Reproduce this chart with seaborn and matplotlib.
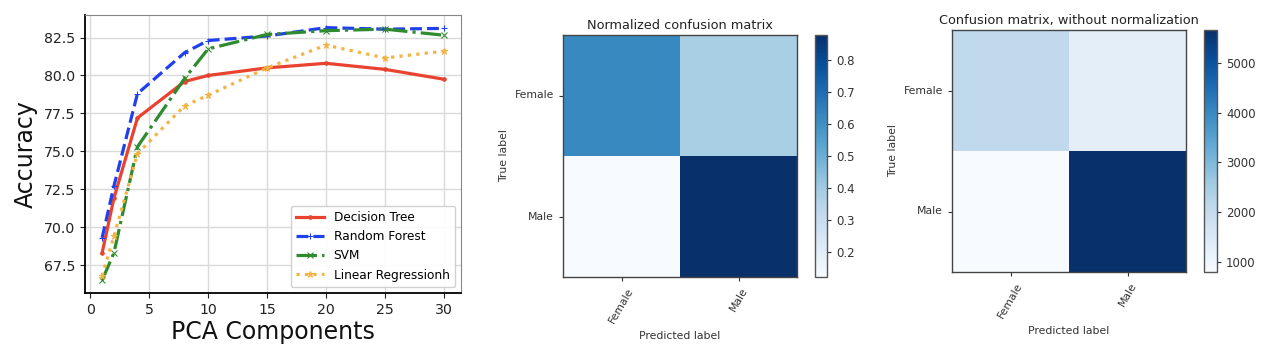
import numpy as np
import pandas as pd
import matplotlib
matplotlib.use("Agg")
import matplotlib.pyplot as plt
import seaborn as sns


# -------------------------------
# DATA
# -------------------------------
pca_components = [1, 2, 4, 8, 10, 15, 20, 25, 30]
decision_tree = [68.3, 71.9, 77.2, 79.6, 80.0, 80.5, 80.8, 80.4, 79.75]
random_forest = [69.3, 72.7, 78.8, 81.5, 82.3, 82.6, 83.15, 83.05, 83.1]
svm = [66.5, 68.3, 75.3, 79.8, 81.75, 82.7, 82.95, 83.05, 82.65]
linear_regression = [66.8, 69.4, 74.85, 78.0, 78.7, 80.5, 82.0, 81.15, 81.6]

classes = ["Female", "Male"]
cm_normalized = [[0.62, 0.38],
                 [0.123, 0.877]]
cm_counts = [[2100, 1290],
             [800, 5660]]

W, H = 1261, 361


def px_axes(fig, x0, y0, x1, y1):
    # pixel box (top-left origin) -> figure axes
    return fig.add_axes([x0 / W, 1 - y1 / H, (x1 - x0) / W, (y1 - y0) / H])


# -------------------------------
# ACCURACY vs PCA COMPONENTS
# -------------------------------
def plot_accuracy(ax):
    df = pd.DataFrame({
        "PCA Components": pca_components,
        "Decision Tree": decision_tree,
        "Random Forest": random_forest,
        "SVM": svm,
        "Linear Regressionh": linear_regression,
    })
    styles = [
        ("Decision Tree", "#e9432f", "-", "."),
        ("Random Forest", "#2040ee", "--", "+"),
        ("SVM", "#2e8b2e", "-.", "x"),
        ("Linear Regressionh", "#f5b342", ":", "*"),
    ]
    for name, color, ls, marker in styles:
        sns.lineplot(data=df, x="PCA Components", y=name, ax=ax, color=color,
                     linestyle=ls, marker=marker, markersize=5, linewidth=2.3,
                     markeredgecolor=color, label=name)

    ax.grid(True, color="#dadada", linewidth=1)
    ax.set_axisbelow(True)
    ax.set_xticks([0, 5, 10, 15, 20, 25, 30])
    ax.set_yticks([67.5, 70.0, 72.5, 75.0, 77.5, 80.0, 82.5])
    ax.tick_params(labelsize=10.2, colors="#222222")
    ax.set_xlabel("PCA Components", fontsize=17, color="#111111", labelpad=2)
    ax.set_ylabel("Accuracy", fontsize=17, color="#111111", labelpad=4)
    for side in ["left", "bottom"]:
        ax.spines[side].set_color("black")
        ax.spines[side].set_linewidth(1.3)
    for side in ["top", "right"]:
        ax.spines[side].set_color("#888888")
    ax.legend(loc="lower right", fontsize=8.7, handlelength=2.3,
              borderpad=0.45, labelspacing=0.5, framealpha=0.9)


# -------------------------------
# CONFUSION MATRIX
# -------------------------------
def plot_confusion(ax, cax, values, title, fmt_ticks):
    df = pd.DataFrame(values, index=classes, columns=classes)
    sns.heatmap(df, ax=ax, cbar_ax=cax, cmap="Blues", square=False,
                linewidths=0)
    ax.set_title(title, fontsize=9.3, color="#222222", pad=4)
    ax.set_xticklabels(classes, rotation=60, fontsize=7.8, color="#333333")
    ax.set_yticklabels(classes, rotation=0, fontsize=7.8, color="#333333")
    ax.tick_params(length=3, color="#333333")
    ax.set_xlabel("Predicted label", fontsize=7.8, color="#333333")
    ax.set_ylabel("True label", fontsize=7.8, color="#333333")
    for sp in ax.spines.values():
        sp.set_visible(True)
        sp.set_color("#444444")
        sp.set_linewidth(1)
    cbar = ax.collections[0].colorbar
    cbar.set_ticks(fmt_ticks)
    cbar.outline.set_linewidth(1)
    cbar.outline.set_edgecolor("#555555")
    cax.tick_params(labelsize=8.5, length=3, colors="#333333")


def run():
    fig = plt.figure(figsize=(W / 100, H / 100), dpi=100)

    ax_acc = px_axes(fig, 85, 15, 461, 293)
    plot_accuracy(ax_acc)

    ax_n = px_axes(fig, 563, 35, 797, 277)
    cax_n = px_axes(fig, 815, 35, 827, 277)
    plot_confusion(ax_n, cax_n, cm_normalized, "Normalized confusion matrix",
                   [0.2, 0.3, 0.4, 0.5, 0.6, 0.7, 0.8])

    ax_c = px_axes(fig, 952, 30, 1186, 272)
    cax_c = px_axes(fig, 1204, 30, 1217, 272)
    plot_confusion(ax_c, cax_c, cm_counts, "Confusion matrix, without normalization",
                   [1000, 2000, 3000, 4000, 5000])

    fig.savefig("out.png", dpi=100)


if __name__ == "__main__":
    run()
